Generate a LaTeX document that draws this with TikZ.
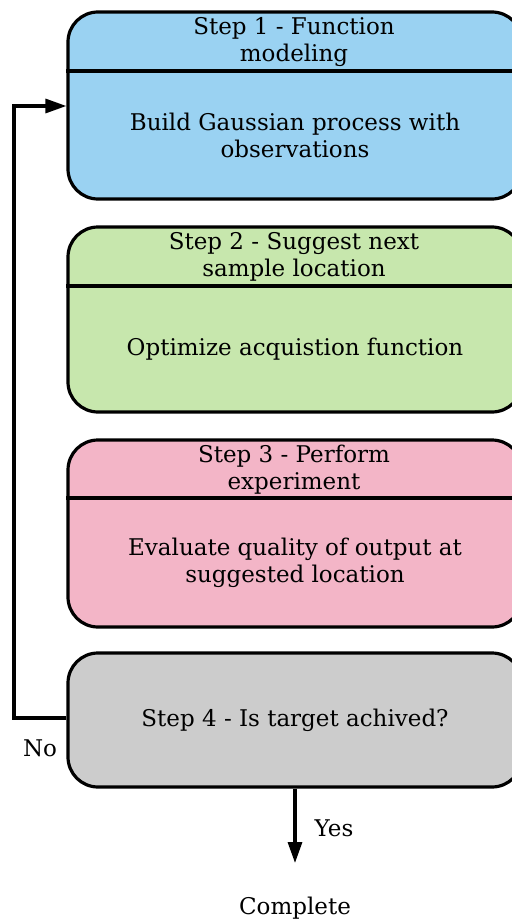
\documentclass[tikz,border=0pt]{standalone}
\usepackage{fontspec}
\setmainfont{DejaVu Serif}
\usetikzlibrary{arrows.meta}
\definecolor{cblue}{RGB}{154,210,242}
\definecolor{cgreen}{RGB}{199,231,173}
\definecolor{cpink}{RGB}{243,181,199}
\definecolor{cgrey}{RGB}{204,204,204}
\begin{document}
\begin{tikzpicture}[x=1pt,y=-1pt,
  stepbox/.style={draw=black,line width=3.2pt,rounded corners=30pt,minimum width=454pt,inner sep=0pt},
  txt/.style={font=\fontsize{23}{27}\selectfont,align=center,inner sep=0pt},
  divline/.style={line width=3.2pt},
  conn/.style={line width=3.2pt,-{Triangle[length=21pt,width=14pt]}}]
\useasboundingbox (0,0) rectangle (511,923);
\node[stepbox,fill=cblue,minimum height=187pt] (b1) at (295,105.5) {};
\node[stepbox,fill=cgreen,minimum height=185pt] (b2) at (295,319.5) {};
\node[stepbox,fill=cpink,minimum height=187pt] (b3) at (295,533.5) {};
\node[stepbox,fill=cgrey,minimum height=134pt] (b4) at (295,720) {};
\coordinate (d1) at (0,71);
\coordinate (d2) at (0,286);
\coordinate (d3) at (0,498);
\draw[divline] (b1.west |- d1) -- (b1.east |- d1);
\draw[divline] (b2.west |- d2) -- (b2.east |- d2);
\draw[divline] (b3.west |- d3) -- (b3.east |- d3);
\node[txt] (t1) at (294,42) {Step 1 - Function\\modeling};
\node[txt] (s1) at (295,135) {Build Gaussian process with\\observations};
\node[txt] (t2) at (294,257) {Step 2 - Suggest next\\sample location};
\node[txt] (s2) at (295,349) {Optimize acquistion function};
\node[txt] (t3) at (294,470) {Step 3 - Perform\\experiment};
\node[txt] (s3) at (295,563) {Evaluate quality of output at\\suggested location};
\node[txt] (s4) at (295,720) {Step 4 - Is target achived?};
\node[txt] (yes) at (334,828) {Yes};
\node[txt] (no) at (40,748) {No};
\node[txt] (done) at (295,908) {Complete};
\coordinate (c4) at (295,863);
\coordinate (fb1) at (14,718);
\coordinate (fb2) at (14,106);
\draw[conn] (b4.south) -- (c4);
\draw[conn] (b4.west |- fb1) -- (fb1) -- (fb2) -- (b1.west |- fb2);
\end{tikzpicture}
\end{document}
